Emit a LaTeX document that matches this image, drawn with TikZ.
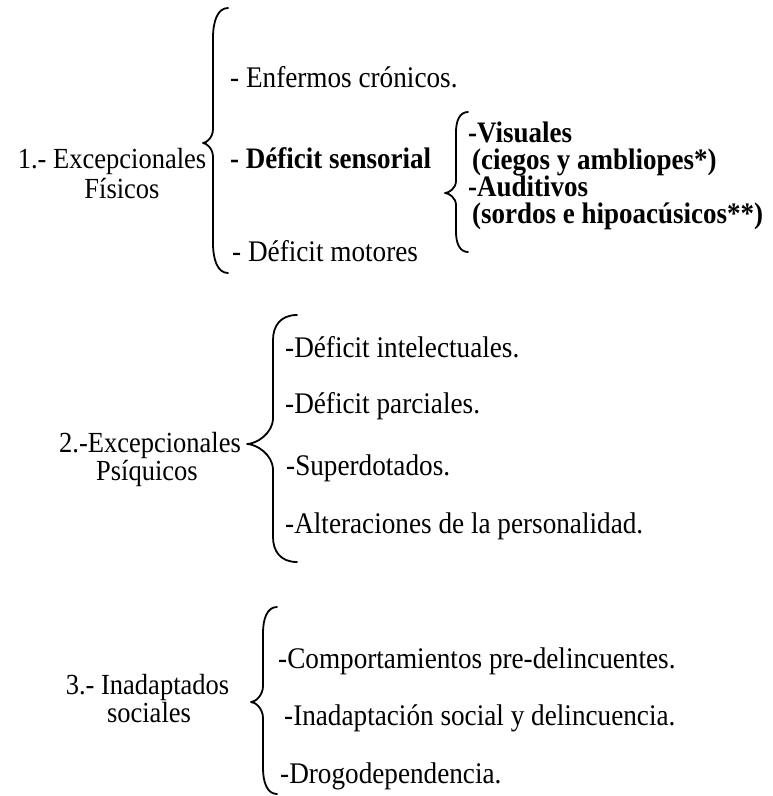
\documentclass[tikz,border=0pt]{standalone}
\usepackage{graphicx}
\usepackage{fontspec}
\setmainfont{Liberation Serif}
% #1 hook x, #2 line x, #3 tip x, #4 top y, #5 tip y, #6 bottom y, #7 hook radius, #8 tip radius
\newcommand{\curlyb}[8]{%
  \pgfmathsetmacro{\brH}{#1-#2}%
  \pgfmathsetmacro{\brD}{#2-#3}%
  \draw[bracestyle] (#1,#4) .. controls ({#2+0.3*\brH},#4) and (#2,{#4+0.45*#7}) .. (#2,{#4+#7})
    -- (#2,{#5-#8}) .. controls (#2,{#5-0.4*#8}) and ({#3+0.35*\brD},#5) .. (#3,#5)
    .. controls ({#3+0.35*\brD},#5) and (#2,{#5+0.4*#8}) .. (#2,{#5+#8})
    -- (#2,{#6-#7}) .. controls (#2,{#6-0.45*#7}) and ({#2+0.3*\brH},#6) .. (#1,#6);
}
\newcommand{\tall}[1]{\scalebox{1}[1.1]{#1}}
\begin{document}
\begin{tikzpicture}[x=1pt,y=-1pt,
  txt/.style={anchor=base west, inner sep=0pt, font=\fontsize{27.2}{28}\selectfont},
  btxt/.style={anchor=base west, inner sep=0pt, font=\fontsize{27}{28}\selectfont\bfseries},
  lab/.style={anchor=base, inner sep=0pt, font=\fontsize{26.5}{27}\selectfont},
  bracestyle/.style={line width=1.8pt, line cap=round, line join=round}]
\useasboundingbox[fill=white] (0,0) rectangle (772,796);

% ---- Section 1
\node[lab] (l1a) at (112,168) {\tall{1.- Excepcionales}};
\node[lab] (l1b) at (122,198) {\tall{Físicos}};
\curlyb{228}{213}{203}{8}{143}{273}{30}{14}
\node[txt]  (i11) at (230,87)  {\tall{- Enfermos crónicos.}};
\node[btxt] (i12) at (230,168) {\tall{- Déficit sensorial}};
\node[txt]  (i13) at (232,261) {\tall{- Déficit motores}};
\curlyb{468}{456}{445}{112}{193}{252}{20}{12}
\node[btxt] (s1) at (468,142) {\tall{-Visuales}};
\node[btxt] (s2) at (472,169) {\tall{(ciegos y ambliopes*)}};
\node[btxt] (s3) at (468,196) {\tall{-Auditivos}};
\node[btxt] (s4) at (472,223) {\tall{(sordos e hipoacúsicos**)}};

% ---- Section 2
\node[lab] (l2a) at (150,452) {\tall{2.-Excepcionales}};
\node[lab] (l2b) at (147,480) {\tall{Psíquicos}};
\curlyb{297}{273}{247}{315}{444}{562}{25}{26}
\node[txt] (i21) at (285,357) {\tall{-Déficit intelectuales.}};
\node[txt] (i22) at (285,413) {\tall{-Déficit parciales.}};
\node[txt] (i23) at (286,475) {\tall{-Superdotados.}};
\node[txt] (i24) at (285,533) {\tall{-Alteraciones de la personalidad.}};

% ---- Section 3
\node[lab] (l3a) at (147.5,694) {\tall{3.- Inadaptados}};
\node[lab] (l3b) at (149,722) {\tall{sociales}};
\curlyb{277}{263}{251}{607}{702}{794}{26}{16}
\node[txt] (i31) at (278,668) {\tall{-Comportamientos pre-delincuentes.}};
\node[txt] (i32) at (284,725) {\tall{-Inadaptación social y delincuencia.}};
\node[txt] (i33) at (280,783) {\tall{-Drogodependencia.}};
\end{tikzpicture}
\end{document}
